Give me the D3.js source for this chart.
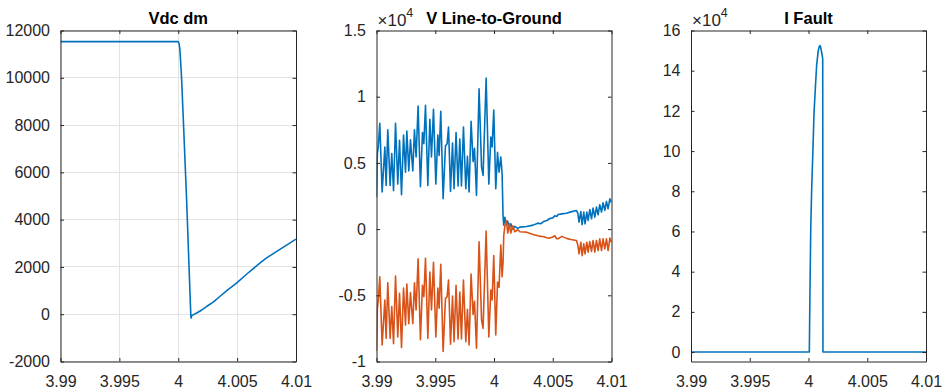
<!DOCTYPE html>
<html>
<head>
<meta charset="utf-8">
<script src="https://cdn.jsdelivr.net/npm/d3@7"></script>
<style>
  html, body { margin: 0; padding: 0; background: #fff; }
  svg { display: block; font-family: "Liberation Sans", Arial, Helvetica, sans-serif; }
</style>
</head>
<body>
<svg id="chart" width="945" height="390"></svg>
<script>
// ---- Time axis (s) shared by all three panels ----
const xTicks = [3.99, 3.995, 4, 4.005, 4.01];
const xTickLabels = ["3.99", "3.995", "4", "4.005", "4.01"];

// ---- Vdc dm (V) ----
const vdcTime = [3.99, 4.0, 4.00007, 4.00014, 4.0002, 4.00028, 4.00042, 4.00071, 4.00107, 4.0011, 4.00114,
  4.0016, 4.002, 4.0024, 4.003, 4.00353, 4.0042, 4.00495, 4.0058, 4.00693, 4.0075, 4.0085, 4.01];
const vdcValue = [11530, 11530, 11450, 11200, 10700, 10010, 8360, 4840, -100, -160, -60,
  60, 180, 325, 520, 750, 1030, 1315, 1690, 2160, 2380, 2700, 3175];
const vdcTicks = [-2000, 0, 2000, 4000, 6000, 8000, 10000, 12000];

// ---- V Line-to-Ground (V): positive pole and negative pole ----
const vlgTime = [3.99, 3.99007, 3.99015, 3.99028, 3.99048, 3.99071, 3.99082, 3.99096, 3.99116, 3.9913,
  3.99145, 3.99162, 3.99181, 3.99196, 3.99213, 3.9923, 3.99247, 3.99258, 3.99275, 3.99289,
  3.99309, 3.99323, 3.99337, 3.99354, 3.99374, 3.99391, 3.99403, 3.99417, 3.99437, 3.99454,
  3.99468, 3.99485, 3.99505, 3.99522, 3.99533, 3.99547, 3.99567, 3.99587, 3.99601, 3.99613,
  3.9963, 3.99647, 3.9966, 3.99677, 3.99694, 3.99709, 3.99723, 3.9974, 3.9976, 3.99774,
  3.99788, 3.99805, 3.99822, 3.99834, 3.99851, 3.99873, 3.99894, 3.99907, 3.99933, 3.99956,
  3.99973, 3.99984, 3.99998, 4.00015, 4.0003, 4.00043, 4.00058, 4.00069, 4.00077, 4.00083,
  4.00092, 4.00105, 4.00117, 4.0013, 4.00143, 4.0016, 4.00177, 4.00203, 4.0022, 4.00277,
  4.00333, 4.00373, 4.00398, 4.00418, 4.00449, 4.00475, 4.005, 4.00517, 4.00534, 4.00546,
  4.00577, 4.00617, 4.00654, 4.00702, 4.00713, 4.00724, 4.00739, 4.0075, 4.00764, 4.00775,
  4.0079, 4.00801, 4.00815, 4.0083, 4.00843, 4.00858, 4.00872, 4.00886, 4.009, 4.00915,
  4.00928, 4.00943, 4.00957, 4.00971, 4.00986, 4.01];
const vlgPos = [2400, 5700, 6200, 8000, 2800, 6200, 3300, 7500, 3300, 5700,
  2900, 8000, 3400, 6700, 2600, 7100, 4300, 7400, 4400, 6750,
  4400, 7500, 5450, 9300, 3200, 7300, 6450, 9350, 3300, 8300,
  5450, 9050, 3400, 7100, 5570, 8900, 2300, 6300, 6450, 7700,
  2850, 6500, 3050, 7300, 3250, 6800, 3250, 7700, 3050, 5500,
  2800, 8150, 5100, 6100, 2550, 10600, 4700, 4050, 11400, 3400,
  6950, 6200, 9000, 3050, 5800, 4300, 5450, 4200, 1000, 300,
  900, 300, 600, 100, 400, 0, 200, 50, 150, 200,
  300, 450, 400, 550, 650, 800, 850, 1000, 950, 1100,
  1150, 1200, 1300, 1400, 1200, 530, 1330, 330, 1290, 400,
  1290, 650, 1480, 780, 1590, 900, 1660, 1080, 1840, 1290,
  1990, 1410, 2090, 1540, 2290, 2000];
const vlgNeg = [-9200, -6000, -5400, -3600, -8750, -5350, -8250, -4050, -8250, -5850,
  -8650, -3550, -8150, -4850, -8950, -4450, -7250, -4150, -7150, -4800,
  -7150, -4050, -6100, -2250, -8350, -4250, -5100, -2200, -8250, -3250,
  -6100, -2500, -8150, -4450, -5980, -2650, -9250, -5250, -5100, -3850,
  -8700, -5050, -8500, -4250, -8300, -4750, -8300, -3850, -8500, -6050,
  -8750, -3400, -6450, -5450, -9000, -950, -6850, -7500, -150, -8150,
  -4600, -5350, -2000, -8000, -4000, -4400, -1200, -3600, -2500, -500,
  200, 650, -300, 400, -300, 250, -200, -50, -200, -230,
  -400, -500, -550, -560, -650, -680, -600, -500, -730, -730,
  -550, -700, -780, -860, -1200, -1870, -990, -2000, -1110, -1870,
  -990, -1740, -940, -1690, -860, -1740, -860, -1620, -730, -1620,
  -730, -1490, -730, -1620, -680, -1000];
const vlgTicks = [-10000, -5000, 0, 5000, 10000, 15000];
const vlgTickLabels = ["-1", "-0.5", "0", "0.5", "1", "1.5"];

// ---- I Fault (A) ----
const ifTime = [3.99, 4.00007, 4.00012, 4.00019, 4.00027, 4.00036, 4.00047, 4.00058, 4.00069, 4.00083,
  4.00092, 4.00098, 4.00106, 4.00121, 4.00123, 4.01];
const ifValue = [0, 0, 28000, 61000, 81000, 97600, 119000, 131000, 142500, 150000,
  152000, 152500, 151000, 146000, 0, 0];
const ifTicks = [0, 20000, 40000, 60000, 80000, 100000, 120000, 140000, 160000];
const ifTickLabels = ["0", "2", "4", "6", "8", "10", "12", "14", "16"];

// ---- Drawing ----
const textColor = "#262626";
const axisColor = "#262626";
const blue = "#0072BD";
const orange = "#D95319";
const tickLen = 3.5;

const svg = d3.select("#chart");

const panels = [
  {
    title: "Vdc dm", left: 60.5, right: 296, top: 30.5, bottom: 361.5,
    yDomain: [-2000, 12000], yTicks: vdcTicks, yLabels: vdcTicks.map(String),
    grid: true, exponent: false,
    series: [{ t: vdcTime, v: vdcValue, color: blue }]
  },
  {
    title: "V Line-to-Ground", left: 376.5, right: 611.5, top: 30.5, bottom: 361.5,
    yDomain: [-10000, 15000], yTicks: vlgTicks, yLabels: vlgTickLabels,
    grid: false, exponent: true,
    series: [{ t: vlgTime, v: vlgPos, color: blue }, { t: vlgTime, v: vlgNeg, color: orange }]
  },
  {
    title: "I Fault", left: 691, right: 926, top: 30.5, bottom: 361.5,
    yDomain: [-4700, 160000], yTicks: ifTicks, yLabels: ifTickLabels,
    grid: false, exponent: true,
    series: [{ t: ifTime, v: ifValue, color: blue }]
  }
];

panels.forEach((p, pi) => {
  const x = d3.scaleLinear().domain([3.99, 4.01]).range([p.left, p.right]);
  const y = d3.scaleLinear().domain(p.yDomain).range([p.bottom, p.top]);
  const g = svg.append("g");
  const w = p.right - p.left, h = p.bottom - p.top;

  // grid
  if (p.grid) {
    const grid = g.append("g").attr("stroke", "#e3e3e3").attr("stroke-width", 1).attr("shape-rendering", "crispEdges");
    xTicks.forEach(t => grid.append("line").attr("x1", x(t)).attr("x2", x(t)).attr("y1", p.top).attr("y2", p.bottom));
    p.yTicks.forEach(v => grid.append("line").attr("x1", p.left).attr("x2", p.right).attr("y1", y(v)).attr("y2", y(v)));
  }

  // clip region for data
  const clipId = "clip" + pi;
  svg.append("clipPath").attr("id", clipId).append("rect")
    .attr("x", p.left).attr("y", p.top - 1).attr("width", w).attr("height", h + 2);

  const line = d3.line().x((d) => x(d[0])).y((d) => y(d[1]));
  p.series.forEach(s => {
    const pts = s.t.map((t, i) => [t, s.v[i]]);
    g.append("path").datum(pts)
      .attr("clip-path", `url(#${clipId})`)
      .attr("fill", "none").attr("stroke", s.color)
      .attr("stroke-width", 1.6).attr("stroke-linejoin", "round")
      .attr("d", line);
  });

  // axes: labelled left and bottom, tick-only right and top, ticks pointing inward
  const yFmt = (d) => p.yLabels[p.yTicks.indexOf(d)];
  const xFmt = (d) => xTickLabels[xTicks.indexOf(d)];

  const axL = g.append("g").attr("transform", `translate(${p.left},0)`)
    .call(d3.axisLeft(y).tickValues(p.yTicks).tickFormat(yFmt).tickSizeInner(-tickLen).tickSizeOuter(0).tickPadding(7 + tickLen));
  const axR = g.append("g").attr("transform", `translate(${p.right},0)`)
    .call(d3.axisRight(y).tickValues(p.yTicks).tickFormat("").tickSizeInner(-tickLen).tickSizeOuter(0));
  const axB = g.append("g").attr("transform", `translate(0,${p.bottom})`)
    .call(d3.axisBottom(x).tickValues(xTicks).tickFormat(xFmt).tickSizeInner(-tickLen).tickSizeOuter(0).tickPadding(11 + tickLen));
  const axT = g.append("g").attr("transform", `translate(0,${p.top})`)
    .call(d3.axisTop(x).tickValues(xTicks).tickFormat("").tickSizeInner(-tickLen).tickSizeOuter(0));

  [axL, axR, axB, axT].forEach(a => {
    a.select(".domain").attr("stroke", axisColor).attr("stroke-width", 1);
    a.selectAll(".tick line").attr("stroke", axisColor).attr("stroke-width", 1);
    a.selectAll("text").attr("fill", textColor).attr("font-size", "16px")
      .attr("font-family", "'Liberation Sans', Arial, Helvetica, sans-serif");
  });

  // title
  g.append("text").attr("x", (p.left + p.right) / 2).attr("y", 24)
    .attr("text-anchor", "middle").attr("font-weight", "bold").attr("font-size", "16.5px")
    .attr("fill", "#000").text(p.title);

  // exponent multiplier
  if (p.exponent) {
    const ex = g.append("text").attr("x", p.left + 1).attr("y", 26).attr("fill", textColor).attr("font-size", "17px");
    ex.append("tspan").text("\u00d710");
    ex.append("tspan").attr("font-size", "12.5px").attr("dy", -9).text("4");
  }
});
</script>
</body>
</html>
